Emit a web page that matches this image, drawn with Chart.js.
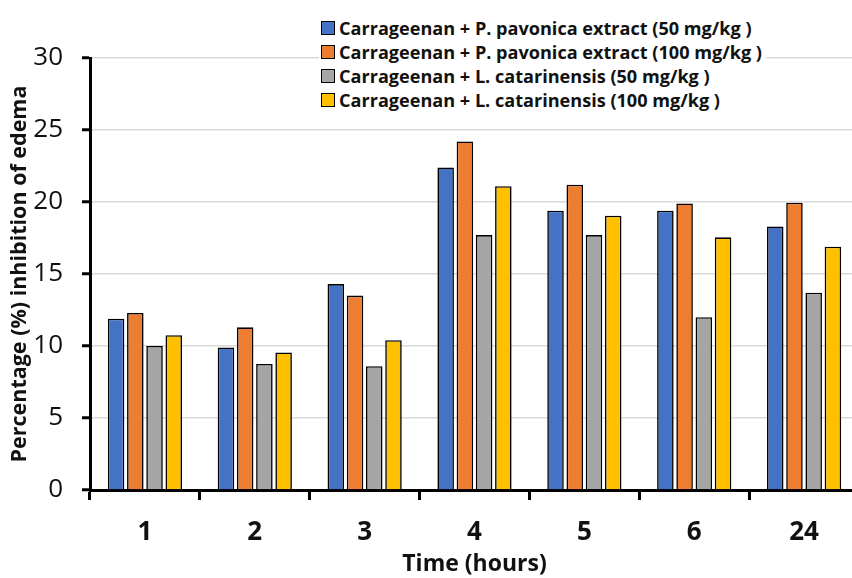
<!DOCTYPE html>
<html>
<head>
<meta charset="utf-8">
<script src="https://cdn.jsdelivr.net/npm/chart.js@4.4.1/dist/chart.umd.min.js"></script>
<style>
  html, body { margin: 0; padding: 0; background: #fff; overflow: hidden; }
  #wrap { position: relative; width: 859px; height: 578px; }
  #c { position: absolute; left: 0; top: 0; }
  #legend { position: absolute; left: 319px; top: 16px; background: #fff; padding: 0 4px 0 2px;
            font-family: "Open Sans", "Noto Sans", sans-serif; font-weight: bold; font-size: 18.1px; color: #111; }
  .row { display: flex; align-items: center; height: 24px; white-space: nowrap; }
  .box { width: 12px; height: 12px; border: 1.5px solid #000; margin-right: 4px; flex: none; }
</style>
</head>
<body>
<div id="wrap">
  <canvas id="c" width="859" height="578"></canvas>
  <div id="legend"></div>
</div>
<script>
const categories = ["1", "2", "3", "4", "5", "6", "24"];
const seriesLabels = [
  "Carrageenan + P. pavonica extract (50 mg/kg )",
  "Carrageenan + P. pavonica extract (100 mg/kg )",
  "Carrageenan + L. catarinensis (50 mg/kg )",
  "Carrageenan + L. catarinensis (100 mg/kg )"
];
const pavonica50  = [11.9, 9.9, 14.3, 22.4, 19.4, 19.4, 18.3];
const pavonica100 = [12.3, 11.3, 13.5, 24.2, 21.2, 19.9, 19.95];
const catarin50   = [10.0, 8.75, 8.6, 17.7, 17.7, 12.0, 13.7];
const catarin100  = [10.75, 9.55, 10.4, 21.1, 19.05, 17.55, 16.9];
const yTicks = [0, 5, 10, 15, 20, 25, 30];
const colors = ["#4472C4", "#ED7D31", "#A5A5A5", "#FFC000"];
const seriesValues = [pavonica50, pavonica100, catarin50, catarin100];

const datasets = seriesValues.map((vals, i) => ({
  label: seriesLabels[i],
  data: vals,
  backgroundColor: colors[i],
  borderColor: "#000",
  borderWidth: 1.6,
  borderSkipped: "bottom",
  categoryPercentage: 0.70,
  barPercentage: 0.86
}));

const legend = document.getElementById("legend");
seriesLabels.forEach((t, i) => {
  const r = document.createElement("div");
  r.className = "row";
  const b = document.createElement("span");
  b.className = "box";
  b.style.background = colors[i];
  const s = document.createElement("span");
  s.textContent = t;
  r.appendChild(b); r.appendChild(s);
  legend.appendChild(r);
});

const F = "Open Sans";
new Chart(document.getElementById("c"), {
  type: "bar",
  data: { labels: categories, datasets },
  options: {
    responsive: false,
    animation: false,
    layout: { padding: { top: 58, right: 0, bottom: 0, left: 0 } },
    plugins: { legend: { display: false }, tooltip: { enabled: false } },
    scales: {
      x: {
        offset: true,
        grid: { offset: true, drawOnChartArea: false, color: "#000", lineWidth: 3, tickLength: 10 },
        border: { color: "#000", width: 3 },
        ticks: { color: "#111", font: { family: F, size: 26, weight: "bold" }, padding: 17 },
        title: { display: true, text: "Time (hours)", color: "#111",
                 font: { family: F, size: 23, weight: "bold" }, padding: { top: 0, bottom: 0 } },
        afterFit: s => { s.height = 88; }
      },
      y: {
        min: 0, max: 30,
        afterBuildTicks: s => { s.ticks = yTicks.map(v => ({ value: v })); },
        grid: { color: "#d9d9d9", lineWidth: 1.5, tickColor: "#000", tickWidth: 3, tickLength: 8 },
        border: { color: "#000", width: 3 },
        ticks: { color: "#111", font: { family: F, size: 26 }, padding: 19 },
        title: { display: true, text: "Percentage (%) inhibition of edema", color: "#111",
                 font: { family: F, size: 21.5, weight: "bold" }, padding: { top: 7, bottom: 0 } },
        afterFit: s => { s.width = 90; }
      }
    }
  }
});
</script>
</body>
</html>
